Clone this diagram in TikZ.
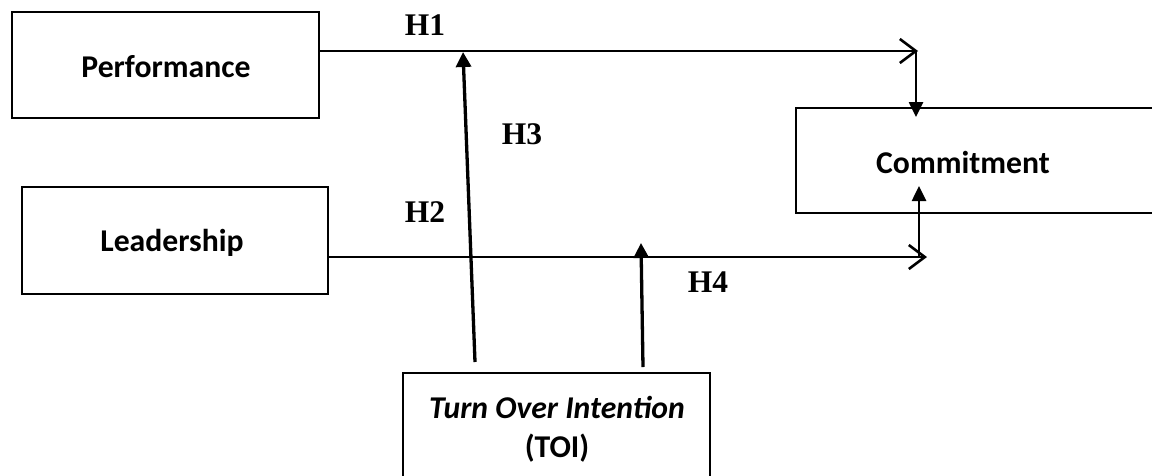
\documentclass[tikz,border=0pt]{standalone}
\usepackage{fontspec}
\setmainfont{Carlito}
\newfontfamily\timesfont{Liberation Serif}
\usetikzlibrary{arrows.meta}
\begin{document}
\begin{tikzpicture}[x=1pt,y=-1pt,
  boxstyle/.style={draw,line width=2.6pt,rectangle,inner sep=0pt},
  boxtext/.style={font=\fontsize{31.7}{39}\selectfont\bfseries,inner sep=0pt,align=center},
  hlabel/.style={font=\fontsize{31.5}{36}\selectfont\timesfont\bfseries,inner sep=0pt},
  openline/.style={line width=2.6pt,-{Straight Barb[length=16pt,width=24pt,line width=2.6pt]}},
  solidarrow/.style={line width=3.3pt,-{Triangle[length=15pt,width=15pt]}},
  thinsolid/.style={line width=2.6pt,-{Triangle[length=15pt,width=14pt]}}]
\useasboundingbox (0,0) rectangle (1152,475);
\clip (0,0) rectangle (1152,475);
% boxes
\node[boxstyle,minimum width=307pt,minimum height=106pt] (perf) at (165.5,65) {};
\node[boxtext] (perftext) at (166,67) {Performance};
\node[boxstyle,minimum width=306pt,minimum height=107pt] (lead) at (175,240.5) {};
\node[boxtext] (leadtext) at (172,243) {Leadership};
\node[boxstyle,minimum width=400pt,minimum height=105pt] (comm) at (996,160.5) {};
\node[boxtext] (commtext) at (963,162) {Commitment};
\node[boxstyle,minimum width=307pt,minimum height=160pt] (toi) at (556.5,453) {};
\node[boxtext] (toitext) at (557,429) {\itshape Turn Over Intention\\(TOI)};
% coordinates
\coordinate (h1end) at (918,51);
\coordinate (downtip) at (916,117);
\coordinate (h2end) at (927,257);
\coordinate (upstart) at (919,257);
\coordinate (uptip) at (919,186);
\coordinate (h3start) at (475,362);
\coordinate (h3tip) at (463,52);
\coordinate (h4start) at (643,367);
\coordinate (h4tip) at (641,243);
% connectors
\draw[openline] (perf.east |- h1end) -- (h1end);
\draw[thinsolid] (916,51) -- (downtip);
\draw[openline] (lead.east |- h2end) -- (h2end);
\draw[thinsolid] (upstart) -- (uptip);
\draw[solidarrow] (h3start) -- (h3tip);
\draw[solidarrow] (h4start) -- (h4tip);
% labels
\node[hlabel] (H1) at (425,25) {H1};
\node[hlabel] (H2) at (425,212) {H2};
\node[hlabel] (H3) at (522,134) {H3};
\node[hlabel] (H4) at (708,282) {H4};
\end{tikzpicture}
\end{document}
